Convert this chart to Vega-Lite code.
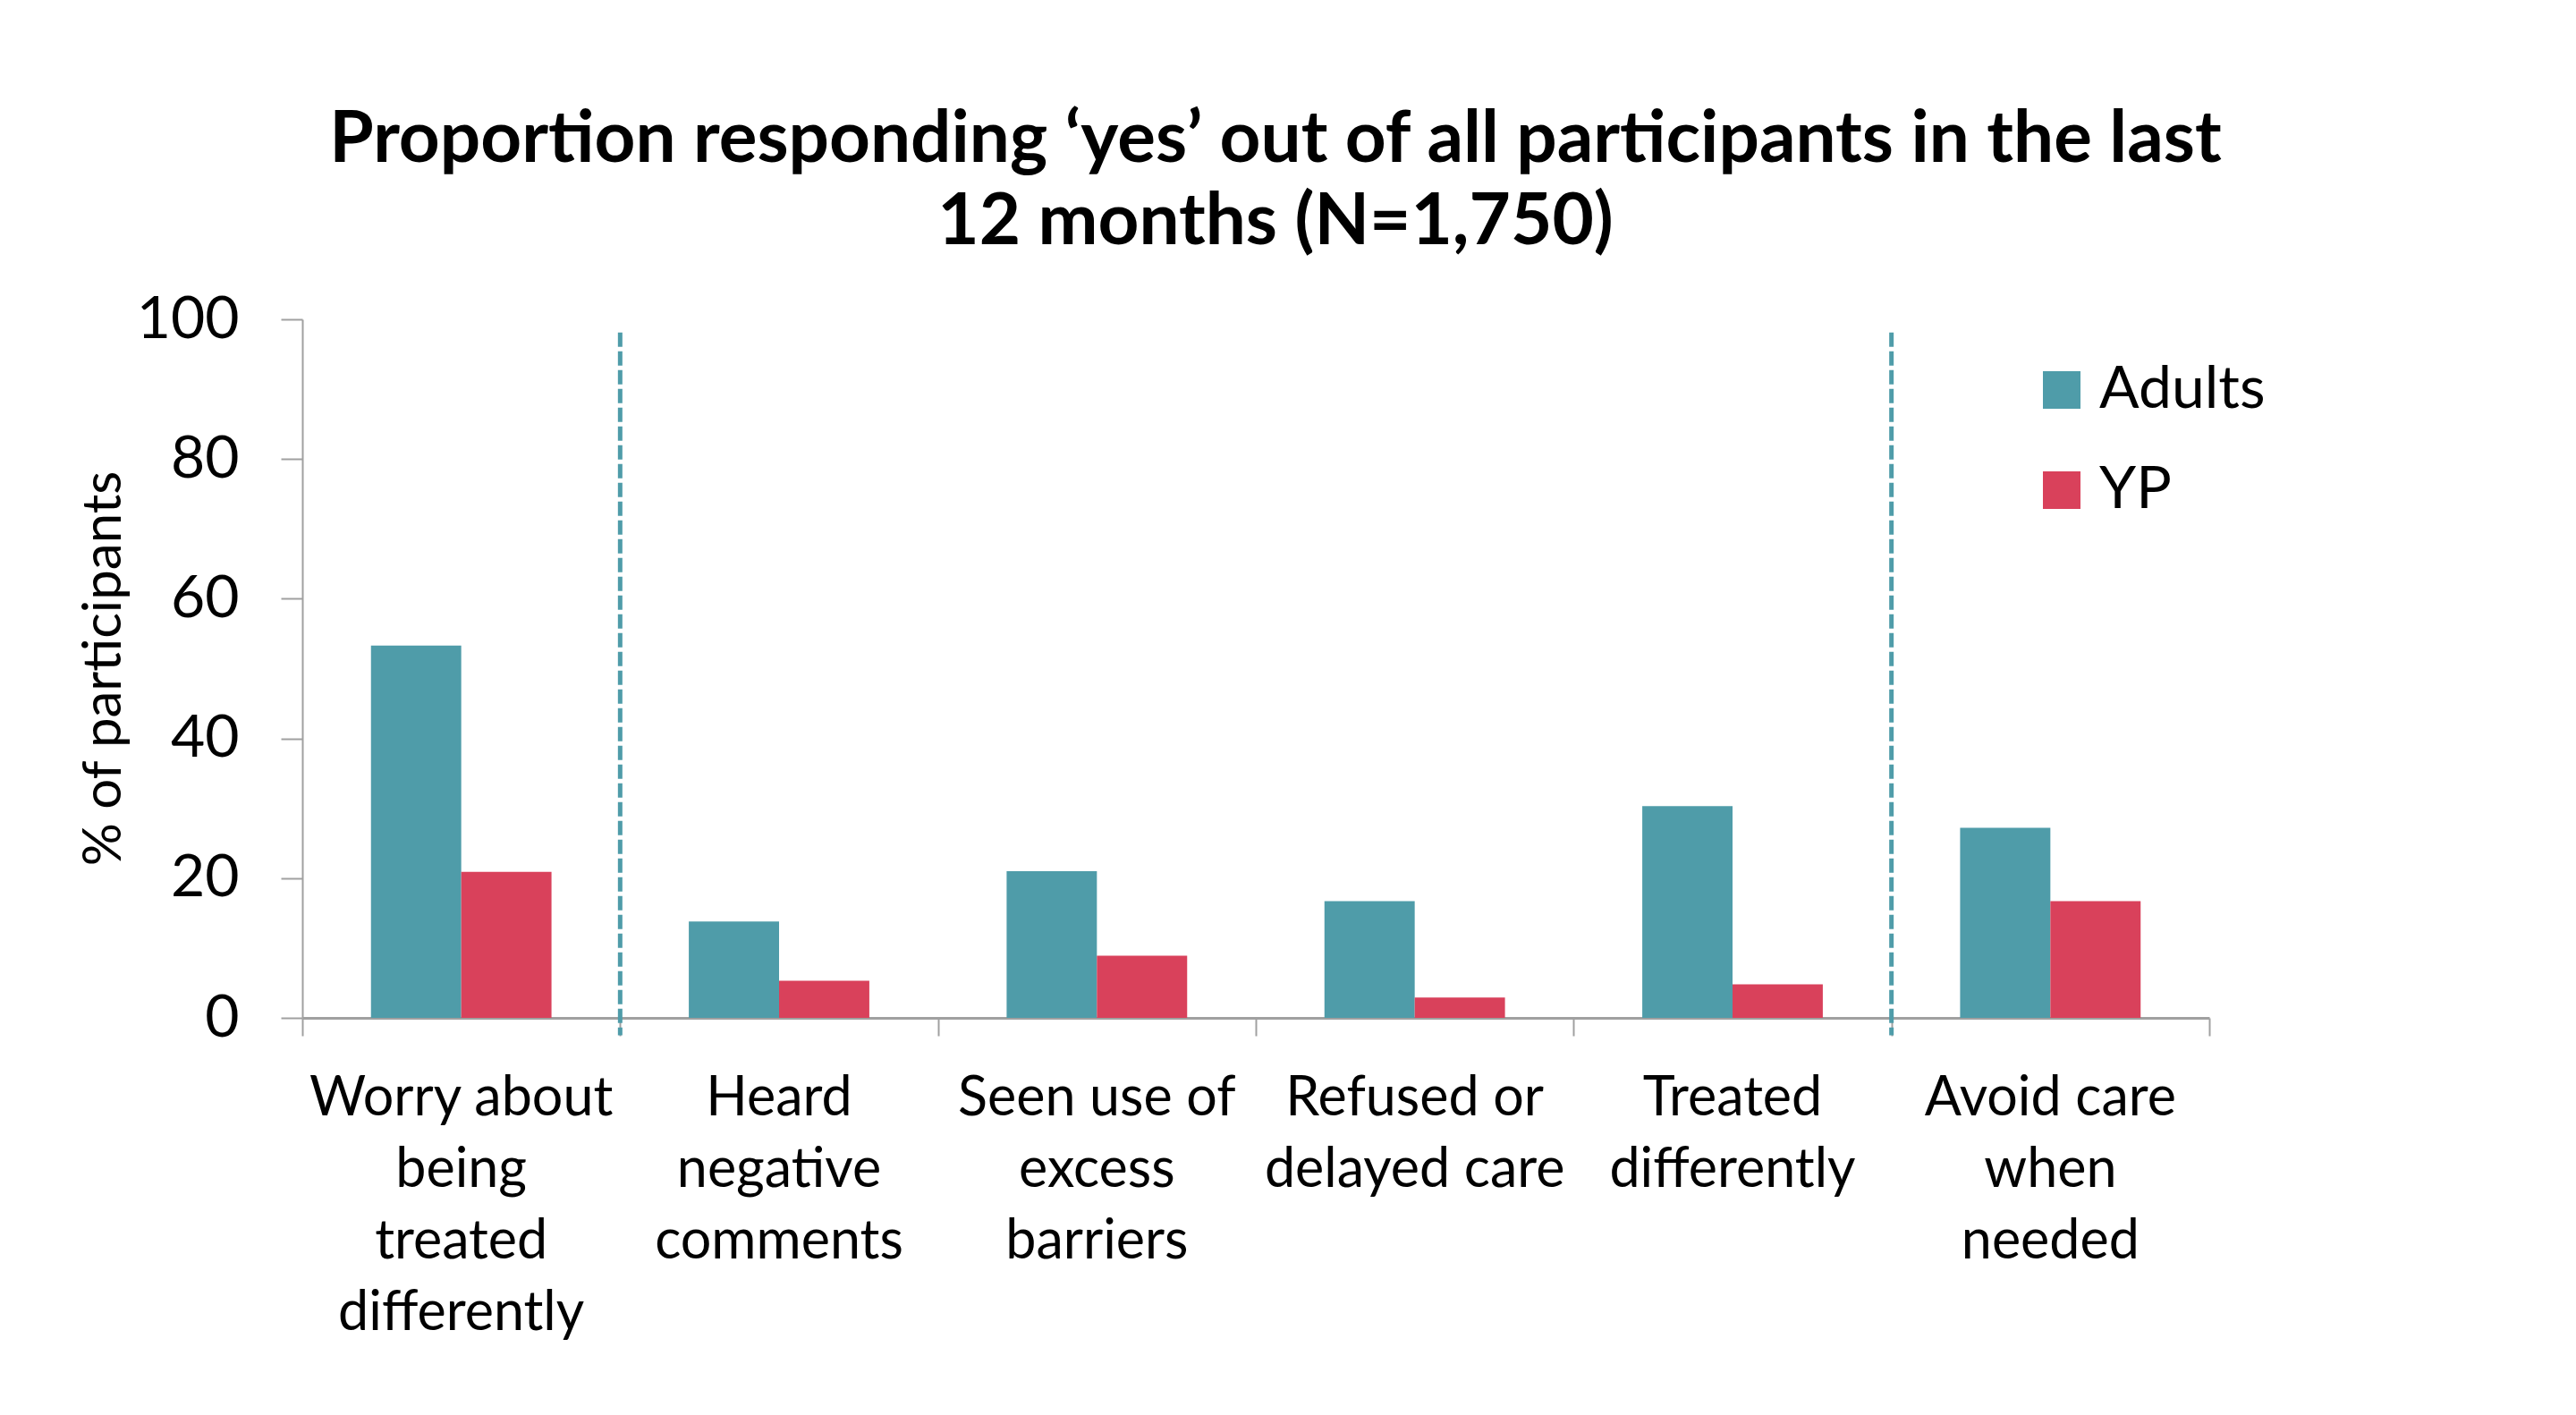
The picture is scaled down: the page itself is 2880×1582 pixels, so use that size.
{
  "$schema": "https://vega.github.io/schema/vega-lite/v6.json",
  "autosize": {"type": "none"},
  "width": 2132,
  "height": 781,
  "padding": {"left": 338, "top": 357, "right": 410, "bottom": 444},
  "background": "white",
  "title": {
    "text": ["Proportion responding ‘yes’ out of all participants in the last", "12 months (N=1,750)"],
    "font": "Lato",
    "fontSize": 80,
    "fontWeight": "bold",
    "lineHeight": 92,
    "color": "black",
    "anchor": "middle",
    "frame": "group",
    "dx": 22,
    "offset": 34
  },
  "config": {
    "view": {"stroke": null},
    "font": "Lato"
  },
  "layer": [
    {
      "data": {
        "values": [
          {"category": "Worry about being treated differently", "group": "Adults", "pct": 53.3},
          {"category": "Worry about being treated differently", "group": "YP", "pct": 20.9},
          {"category": "Heard negative comments", "group": "Adults", "pct": 13.8},
          {"category": "Heard negative comments", "group": "YP", "pct": 5.3},
          {"category": "Seen use of excess barriers", "group": "Adults", "pct": 21.0},
          {"category": "Seen use of excess barriers", "group": "YP", "pct": 8.9},
          {"category": "Refused or delayed care", "group": "Adults", "pct": 16.7},
          {"category": "Refused or delayed care", "group": "YP", "pct": 2.9},
          {"category": "Treated differently", "group": "Adults", "pct": 30.3},
          {"category": "Treated differently", "group": "YP", "pct": 4.8},
          {"category": "Avoid care when needed", "group": "Adults", "pct": 27.2},
          {"category": "Avoid care when needed", "group": "YP", "pct": 16.7}
        ]
      },
      "mark": {"type": "bar", "strokeWidth": 0},
      "encoding": {
        "x": {
          "field": "category",
          "type": "nominal",
          "sort": null,
          "scale": {"paddingInner": 0.432, "paddingOuter": 0.216},
          "axis": {
            "title": null,
            "orient": "bottom",
            "offset": 0,
            "labelAngle": 0,
            "labelFont": "Lato",
            "labelFontSize": 61,
            "labelColor": "black",
            "labelLineHeight": 80,
            "labelPadding": 60,
            "labelBaseline": "top",
            "labelLimit": 0,
            "ticks": false,
            "domainColor": "#A0A0A0",
            "domainWidth": 3,
            "labelExpr": "datum.label == 'Worry about being treated differently' ? ['Worry about', 'being', 'treated', 'differently'] : datum.label == 'Heard negative comments' ? ['Heard', 'negative', 'comments'] : datum.label == 'Seen use of excess barriers' ? ['Seen use of', 'excess', 'barriers'] : datum.label == 'Refused or delayed care' ? ['Refused or', 'delayed care'] : datum.label == 'Treated differently' ? ['Treated', 'differently'] : ['Avoid care', 'when', 'needed']"
          }
        },
        "xOffset": {"field": "group", "type": "nominal", "scale": {"paddingInner": 0, "paddingOuter": 0}},
        "y": {
          "field": "pct",
          "type": "quantitative",
          "scale": {"domain": [0, 100], "nice": false},
          "axis": {
            "title": "% of participants",
            "titleFont": "Lato",
            "titleFontSize": 60,
            "titleFontWeight": "normal",
            "titleColor": "black",
            "titleX": -204,
            "titleY": 390,
            "titleAngle": -90,
            "titleAlign": "center",
            "titleBaseline": "alphabetic",
            "values": [0, 20, 40, 60, 80, 100],
            "grid": false,
            "labelFont": "Lato",
            "labelFontSize": 66,
            "labelColor": "black",
            "labelPadding": 47,
            "tickSize": 24,
            "tickWidth": 2,
            "tickColor": "#A0A0A0",
            "domainColor": "#A0A0A0",
            "domainWidth": 2
          }
        },
        "color": {
          "field": "group",
          "type": "nominal",
          "scale": {"domain": ["Adults", "YP"], "range": ["#4F9CA9", "#D9415B"]},
          "legend": {
            "title": null,
            "orient": "none",
            "legendX": 1934,
            "legendY": 46,
            "padding": 0,
            "symbolType": "square",
            "symbolSize": 1764,
            "symbolStrokeWidth": 0,
            "symbolOpacity": 1,
            "labelFont": "Lato",
            "labelFontSize": 66,
            "labelColor": "black",
            "labelLimit": 0,
            "labelOffset": 9,
            "rowPadding": 46
          }
        }
      }
    },
    {
      "data": {
        "values": [
          {"divider": 1, "top": 98.1, "bottom": -2.5},
          {"divider": 5, "top": 98.1, "bottom": -2.5}
        ]
      },
      "mark": {"type": "rule", "color": "#4F9CA9", "strokeWidth": 5, "strokeDash": [16, 5]},
      "encoding": {
        "x": {
          "field": "divider",
          "type": "quantitative",
          "scale": {"domain": [0, 6], "nice": false, "zero": false},
          "axis": {
            "orient": "bottom",
            "offset": 0,
            "values": [0, 1, 2, 3, 4, 5, 6],
            "labels": false,
            "domain": false,
            "grid": false,
            "title": null,
            "ticks": true,
            "tickSize": 20,
            "tickWidth": 2,
            "tickColor": "#A0A0A0"
          }
        },
        "y": {"field": "top", "type": "quantitative"},
        "y2": {"field": "bottom"}
      }
    }
  ],
  "resolve": {"scale": {"x": "independent"}, "axis": {"x": "independent"}}
}
